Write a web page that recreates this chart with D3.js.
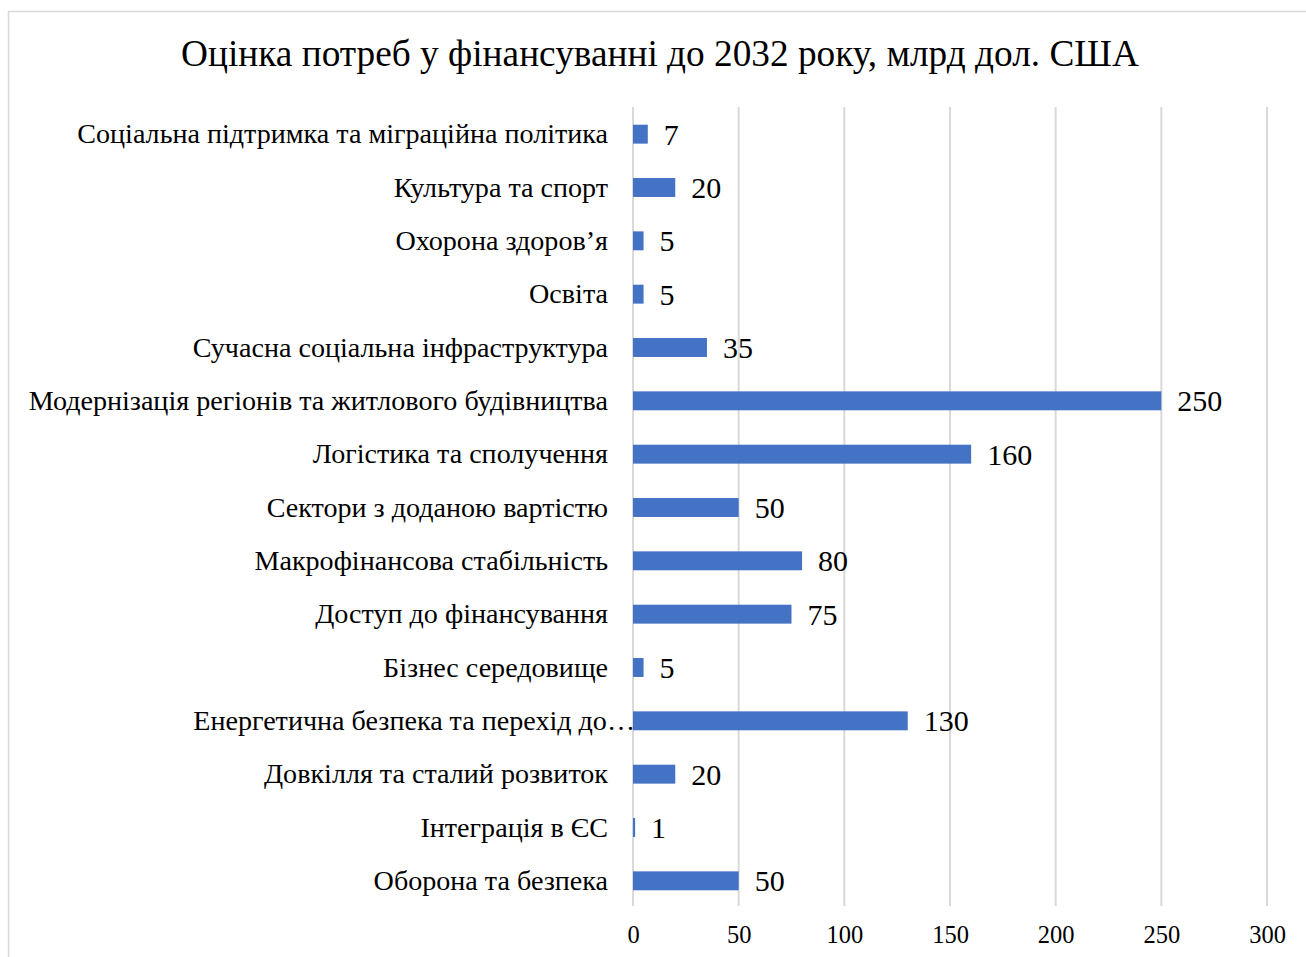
<!DOCTYPE html>
<html><head><meta charset="utf-8">
<script src="https://cdn.jsdelivr.net/npm/d3@7"></script>
<style>html,body{margin:0;padding:0;background:#fff;}svg{display:block;}</style>
</head><body>
<svg id="chart" width="1306" height="957"></svg>
<script>
const categories = [
  "Соціальна підтримка та міграційна політика",
  "Культура та спорт",
  "Охорона здоров’я",
  "Освіта",
  "Сучасна соціальна інфраструктура",
  "Модернізація регіонів та житлового будівництва",
  "Логістика та сполучення",
  "Сектори з доданою вартістю",
  "Макрофінансова стабільність",
  "Доступ до фінансування",
  "Бізнес середовище",
  "Енергетична безпека та перехід до…",
  "Довкілля та сталий розвиток",
  "Інтеграція в ЄС",
  "Оборона та безпека"
];
const values = [7, 20, 5, 5, 35, 250, 160, 50, 80, 75, 5, 130, 20, 1, 50];
const tickValues = [0, 50, 100, 150, 200, 250, 300];
const title = "Оцінка потреб у фінансуванні до 2032 року, млрд дол. США";

const svg = d3.select("#chart");
const font = "'Liberation Serif', 'Times New Roman', serif";

svg.append("rect").attr("x", 8.5).attr("y", 11.5).attr("width", 1320).attr("height", 980)
  .attr("fill", "#fff").attr("stroke", "#d9d9d9").attr("stroke-width", 1.5);

const x = d3.scaleLinear().domain([0, 300]).range([633, 1267]);
const y = d3.scaleBand().domain(categories).range([107.5, 907.5]).paddingInner(0.645).paddingOuter(0.3225);

svg.append("text").attr("x", 660).attr("y", 66).attr("text-anchor", "middle")
  .attr("font-family", font).attr("font-size", 37.3).attr("fill", "#000").text(title);

// gridlines
svg.append("g").selectAll("line").data(tickValues).join("line")
  .attr("x1", d => x(d)).attr("x2", d => x(d))
  .attr("y1", 107).attr("y2", 906)
  .attr("stroke", "#d9d9d9").attr("stroke-width", 2);

// x axis tick labels
const xAxis = d3.axisBottom(x).tickValues(tickValues).tickSize(0).tickPadding(0);
const gx = svg.append("g").attr("transform", "translate(0,926)").call(xAxis);
gx.select(".domain").remove();
gx.selectAll("text").attr("font-family", font).attr("font-size", 24.5).attr("fill", "#000").attr("dy", "0.71em");

// y axis labels
const yAxis = d3.axisLeft(y).tickSize(0).tickPadding(0);
const gy = svg.append("g").attr("transform", "translate(608,0)").call(yAxis);
gy.select(".domain").remove();
gy.selectAll("text").attr("font-family", font).attr("font-size", 28.1).attr("fill", "#000").attr("dy", "0.32em")
  .attr("dx", d => d.endsWith("…") ? 27 : 0);

// bars
svg.append("g").selectAll("rect").data(values).join("rect")
  .attr("x", x(0))
  .attr("y", (d, i) => y(categories[i]))
  .attr("width", d => x(d) - x(0))
  .attr("height", y.bandwidth())
  .attr("fill", "#4472c4");

// value labels
svg.append("g").selectAll("text").data(values).join("text")
  .attr("x", d => x(d) + 16)
  .attr("y", (d, i) => y(categories[i]) + y.bandwidth() / 2)
  .attr("dy", "0.35em")
  .attr("font-family", font).attr("font-size", 30).attr("fill", "#000")
  .text(d => d);
</script>
</body></html>
